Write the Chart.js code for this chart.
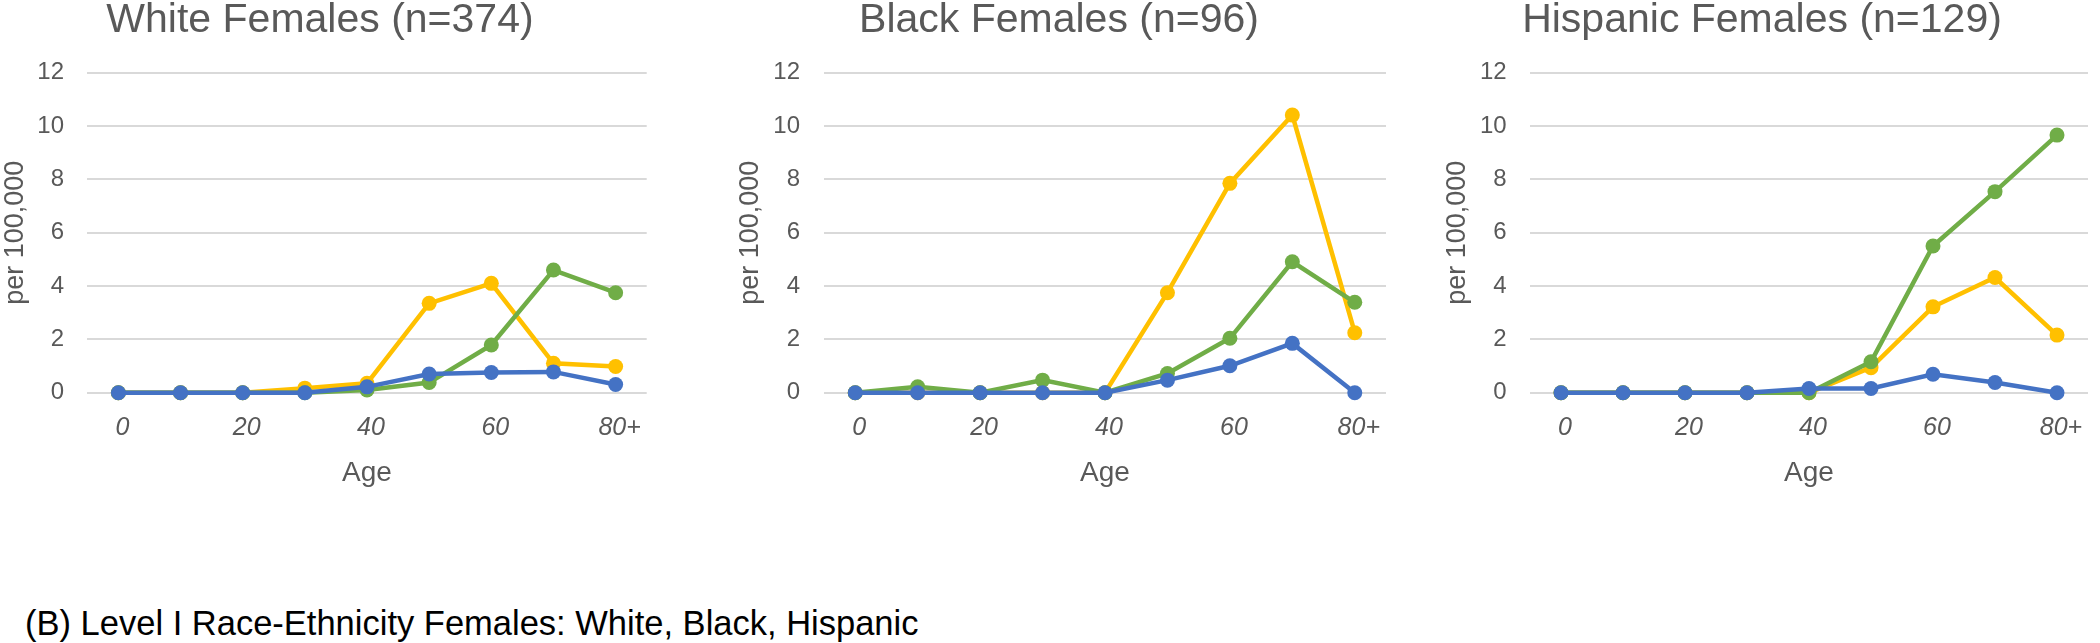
<!DOCTYPE html>
<html><head><meta charset="utf-8">
<script src="https://cdn.jsdelivr.net/npm/chart.js@4.4.0/dist/chart.umd.min.js"></script>
<style>
html,body{margin:0;padding:0;background:#fff;width:2100px;height:643px;overflow:hidden;font-family:"Liberation Sans",Arial,sans-serif;}
.panel{position:absolute;top:0;width:700px;height:500px;}
.title{position:absolute;top:-2px;font-size:41px;line-height:1;color:#595959;white-space:nowrap;transform:translateX(-50%);}
#caption{position:absolute;left:25px;top:606px;font-size:34.5px;line-height:1;color:#000;white-space:nowrap;}
</style></head>
<body>
<div id="root"></div>
<div id="caption">(B) Level I Race-Ethnicity Females: White, Black, Hispanic</div>
<script>
// ---- data ----
const categories = ['0','10','20','30','40','50','60','70','80+'];
const tickLabels = ['0','','20','','40','','60','','80+'];
const yTicks = [0,2,4,6,8,10,12];
const seriesNames = ['Series 1','Series 2','Series 3'];
const panelTitles = ['White Females (n=374)','Black Females (n=96)','Hispanic Females (n=129)'];

const whiteBlue   = [0,0,0,0,0.22,0.70,0.76,0.78,0.31];
const whiteGreen  = [0,0,0,0,0.10,0.38,1.79,4.60,3.75];
const whiteYellow = [0,0,0,0.17,0.35,3.35,4.10,1.10,0.98];

const blackBlue   = [0,0,0,0,0,0.47,1.01,1.85,0];
const blackGreen  = [0,0.22,0,0.47,0,0.72,2.04,4.91,3.39];
const blackYellow = [0,0,0,0,0,3.75,7.85,10.41,2.25];

const hispBlue    = [0,0,0,0,0.16,0.16,0.69,0.38,0];
const hispGreen   = [0,0,0,0,0,1.16,5.50,7.54,9.66];
const hispYellow  = [0,0,0,0,0,0.94,3.22,4.32,2.16];

// ---- layout / style ----
const colors = ['#4472C4','#70AD47','#FFC000'];
const FONT = '"Liberation Sans", Arial, sans-serif';
const TEXT = '#595959';
const panels = [
  {left:0,    plotL:87.3, plotR:646.7, yTitleC:15.7, tickR:64,    titleC:320, data:[whiteBlue,whiteGreen,whiteYellow]},
  {left:700,  plotL:124,  plotR:686,   yTitleC:50.5, tickR:100,   titleC:359, data:[blackBlue,blackGreen,blackYellow]},
  {left:1400, plotL:130,  plotR:688,   yTitleC:58,   tickR:106.7, titleC:362, data:[hispBlue,hispGreen,hispYellow]}
];
const W = 700, H = 500, PLOT_TOP = 72.7, PLOT_BOTTOM = 392.7;

const root = document.getElementById('root');
panels.forEach((p, idx) => {
  const div = document.createElement('div');
  div.className = 'panel';
  div.style.left = p.left + 'px';
  const cv = document.createElement('canvas');
  cv.width = W; cv.height = H;
  cv.style.width = W + 'px'; cv.style.height = H + 'px';
  div.appendChild(cv);
  const t = document.createElement('div');
  t.className = 'title';
  t.style.left = p.titleC + 'px';
  t.textContent = panelTitles[idx];
  div.appendChild(t);
  root.appendChild(div);

  const yTitleSize = 27;
  new Chart(cv.getContext('2d'), {
    type: 'line',
    data: {
      labels: categories,
      datasets: p.data.map((d, i) => ({
        label: seriesNames[i],
        data: d,
        borderColor: colors[i],
        backgroundColor: colors[i],
        pointBackgroundColor: colors[i],
        pointBorderColor: colors[i],
        borderWidth: 4.5,
        pointRadius: 7.5,
        pointBorderWidth: 0,
        tension: 0,
        fill: false,
        clip: false
      }))
    },
    options: {
      responsive: false,
      animation: false,
      devicePixelRatio: 1,
      layout: {padding: {top: PLOT_TOP, bottom: 0, left: 0, right: W - p.plotR}},
      plugins: {legend: {display: false}, tooltip: {enabled: false}, title: {display: false}},
      scales: {
        x: {
          type: 'category',
          offset: true,
          grid: {display: false, drawTicks: false},
          border: {display: false},
          ticks: {
            autoSkip: false, maxRotation: 0, minRotation: 0,
            padding: 20, labelOffset: 4,
            color: TEXT,
            font: {family: FONT, size: 25, style: 'italic'},
            callback: (v, i) => tickLabels[i]
          },
          title: {display: true, text: 'Age', color: TEXT, font: {family: FONT, size: 28}, padding: {top: 0, bottom: 10}},
          afterFit: s => { s.height = H - PLOT_BOTTOM; }
        },
        y: {
          min: 0, max: 12,
          afterBuildTicks: s => { s.ticks = yTicks.map(v => ({value: v})); },
          grid: {color: '#D9D9D9', lineWidth: 2, drawTicks: false},
          border: {display: false},
          ticks: {color: TEXT, font: {family: FONT, size: 24}, padding: p.plotL - p.tickR},
          title: {display: true, text: 'per 100,000', color: TEXT, font: {family: FONT, size: yTitleSize},
                  padding: {top: p.yTitleC - yTitleSize * 1.2 / 2, bottom: 0}},
          afterFit: s => { s.width = p.plotL; }
        }
      }
    }
  });
});
</script>
</body></html>
